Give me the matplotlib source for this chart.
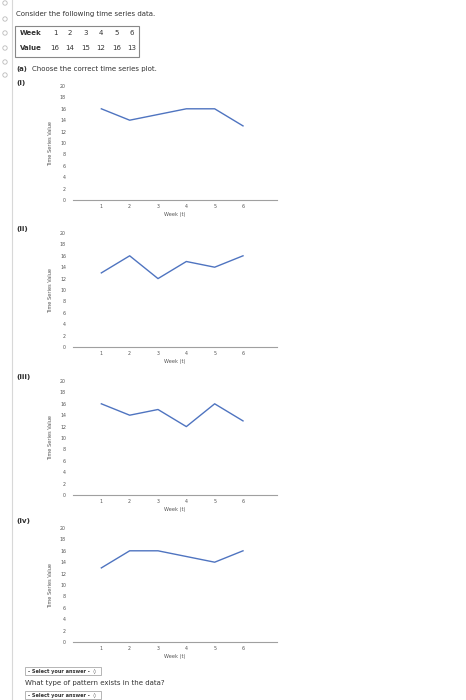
import matplotlib
matplotlib.use("Agg")
import matplotlib.pyplot as plt
from matplotlib.patches import Rectangle, Circle

W, H = 466, 700

weeks = [1, 2, 3, 4, 5, 6]
values = [16, 14, 15, 12, 16, 13]
plot_i = [16, 14, 15, 16, 16, 13]
plot_ii = [13, 16, 12, 15, 14, 16]
plot_iii = [16, 14, 15, 12, 16, 13]
plot_iv = [13, 16, 16, 15, 14, 16]
panel_names = ["(i)", "(ii)", "(iii)", "(iv)"]
y_ticks = [0, 2, 4, 6, 8, 10, 12, 14, 16, 18, 20]

TXT = "#333333"
LINE = "#4f74c0"

plt.rcParams['font.family'] = ['DejaVu Sans']

fig = plt.figure(figsize=(W / 100, H / 100), dpi=100)
fig.patch.set_facecolor("white")


def fx(x):
    return x / W


def fy(y):
    return 1 - y / H


# left margin: grey rule and little radio circles
bg = fig.add_axes([0, 0, 1, 1])
bg.set_xlim(0, W)
bg.set_ylim(H, 0)
bg.axis("off")
bg.plot([12, 12], [0, H], color="#d8d8d8", lw=0.8)
for cy in [3, 19, 33, 48, 62, 75]:
    bg.add_patch(Circle((5, cy), 2.2, fill=False, ec="#bbbbbb", lw=0.6))

fig.text(fx(16), fy(14), "Consider the following time series data.",
         fontsize=5.0, color=TXT, va="center")

# data table
bg.add_patch(Rectangle((15, 26), 124, 31, fill=False, ec="#888888", lw=0.8))
fig.text(fx(20), fy(33), "Week", fontsize=5.0, weight="bold", color=TXT, va="center")
fig.text(fx(20), fy(48.5), "Value", fontsize=5.0, weight="bold", color=TXT, va="center")
col_x = [55, 70, 86, 101, 117, 132]
for cx, wk, v in zip(col_x, weeks, values):
    fig.text(fx(cx), fy(33), str(wk), fontsize=5.0, color=TXT, va="center", ha="center")
    fig.text(fx(cx), fy(48.5), str(v), fontsize=5.0, color=TXT, va="center", ha="center")

fig.text(fx(16), fy(69.5), "(a)", fontsize=5.0, weight="bold", color=TXT, va="center")
fig.text(fx(32), fy(69.5), "Choose the correct time series plot.",
         fontsize=5.0, color=TXT, va="center")

# the four candidate plots
series = [plot_i, plot_ii, plot_iii, plot_iv]
tops = [86, 233, 381, 528]
label_y = [83, 229, 377, 521]
L, R, PH = 73, 277, 114

for name, vals, top, ly in zip(panel_names, series, tops, label_y):
    fig.text(fx(16), fy(ly), name, fontsize=5.2, weight="bold", color=TXT, va="center")
    ax = fig.add_axes([fx(L), fy(top + PH), (R - L) / W, PH / H])
    ax.plot(weeks, vals, color=LINE, lw=1.0, clip_on=False)
    ax.set_xlim(0, 7.2)
    ax.set_ylim(0, 20)
    ax.set_xticks(weeks)
    ax.set_yticks(y_ticks)
    ax.tick_params(length=0, labelsize=3.4, colors="#555555")
    ax.tick_params(axis="x", pad=3)
    ax.tick_params(axis="y", pad=5)
    for s in ["top", "right", "left"]:
        ax.spines[s].set_visible(False)
    ax.spines["bottom"].set_color("#a0a0a0")
    ax.spines["bottom"].set_linewidth(0.8)
    ax.set_xlabel("Week (t)", fontsize=3.6, color="#555555", labelpad=2)
    ax.set_ylabel("Time Series Value", fontsize=3.6, color="#555555", labelpad=5)

# answer boxes at the bottom
for by in [667, 691]:
    bg.add_patch(Rectangle((25, by), 76, 8, fill=False, ec="#aaaaaa", lw=0.6))
    fig.text(fx(28), fy(by + 4), "- Select your answer -  \u25ca", fontsize=3.6,
             weight="bold", color=TXT, va="center")
fig.text(fx(25), fy(683), "What type of pattern exists in the data?",
         fontsize=5.0, color=TXT, va="center")

fig.savefig("out.png", dpi=100, facecolor="white")
